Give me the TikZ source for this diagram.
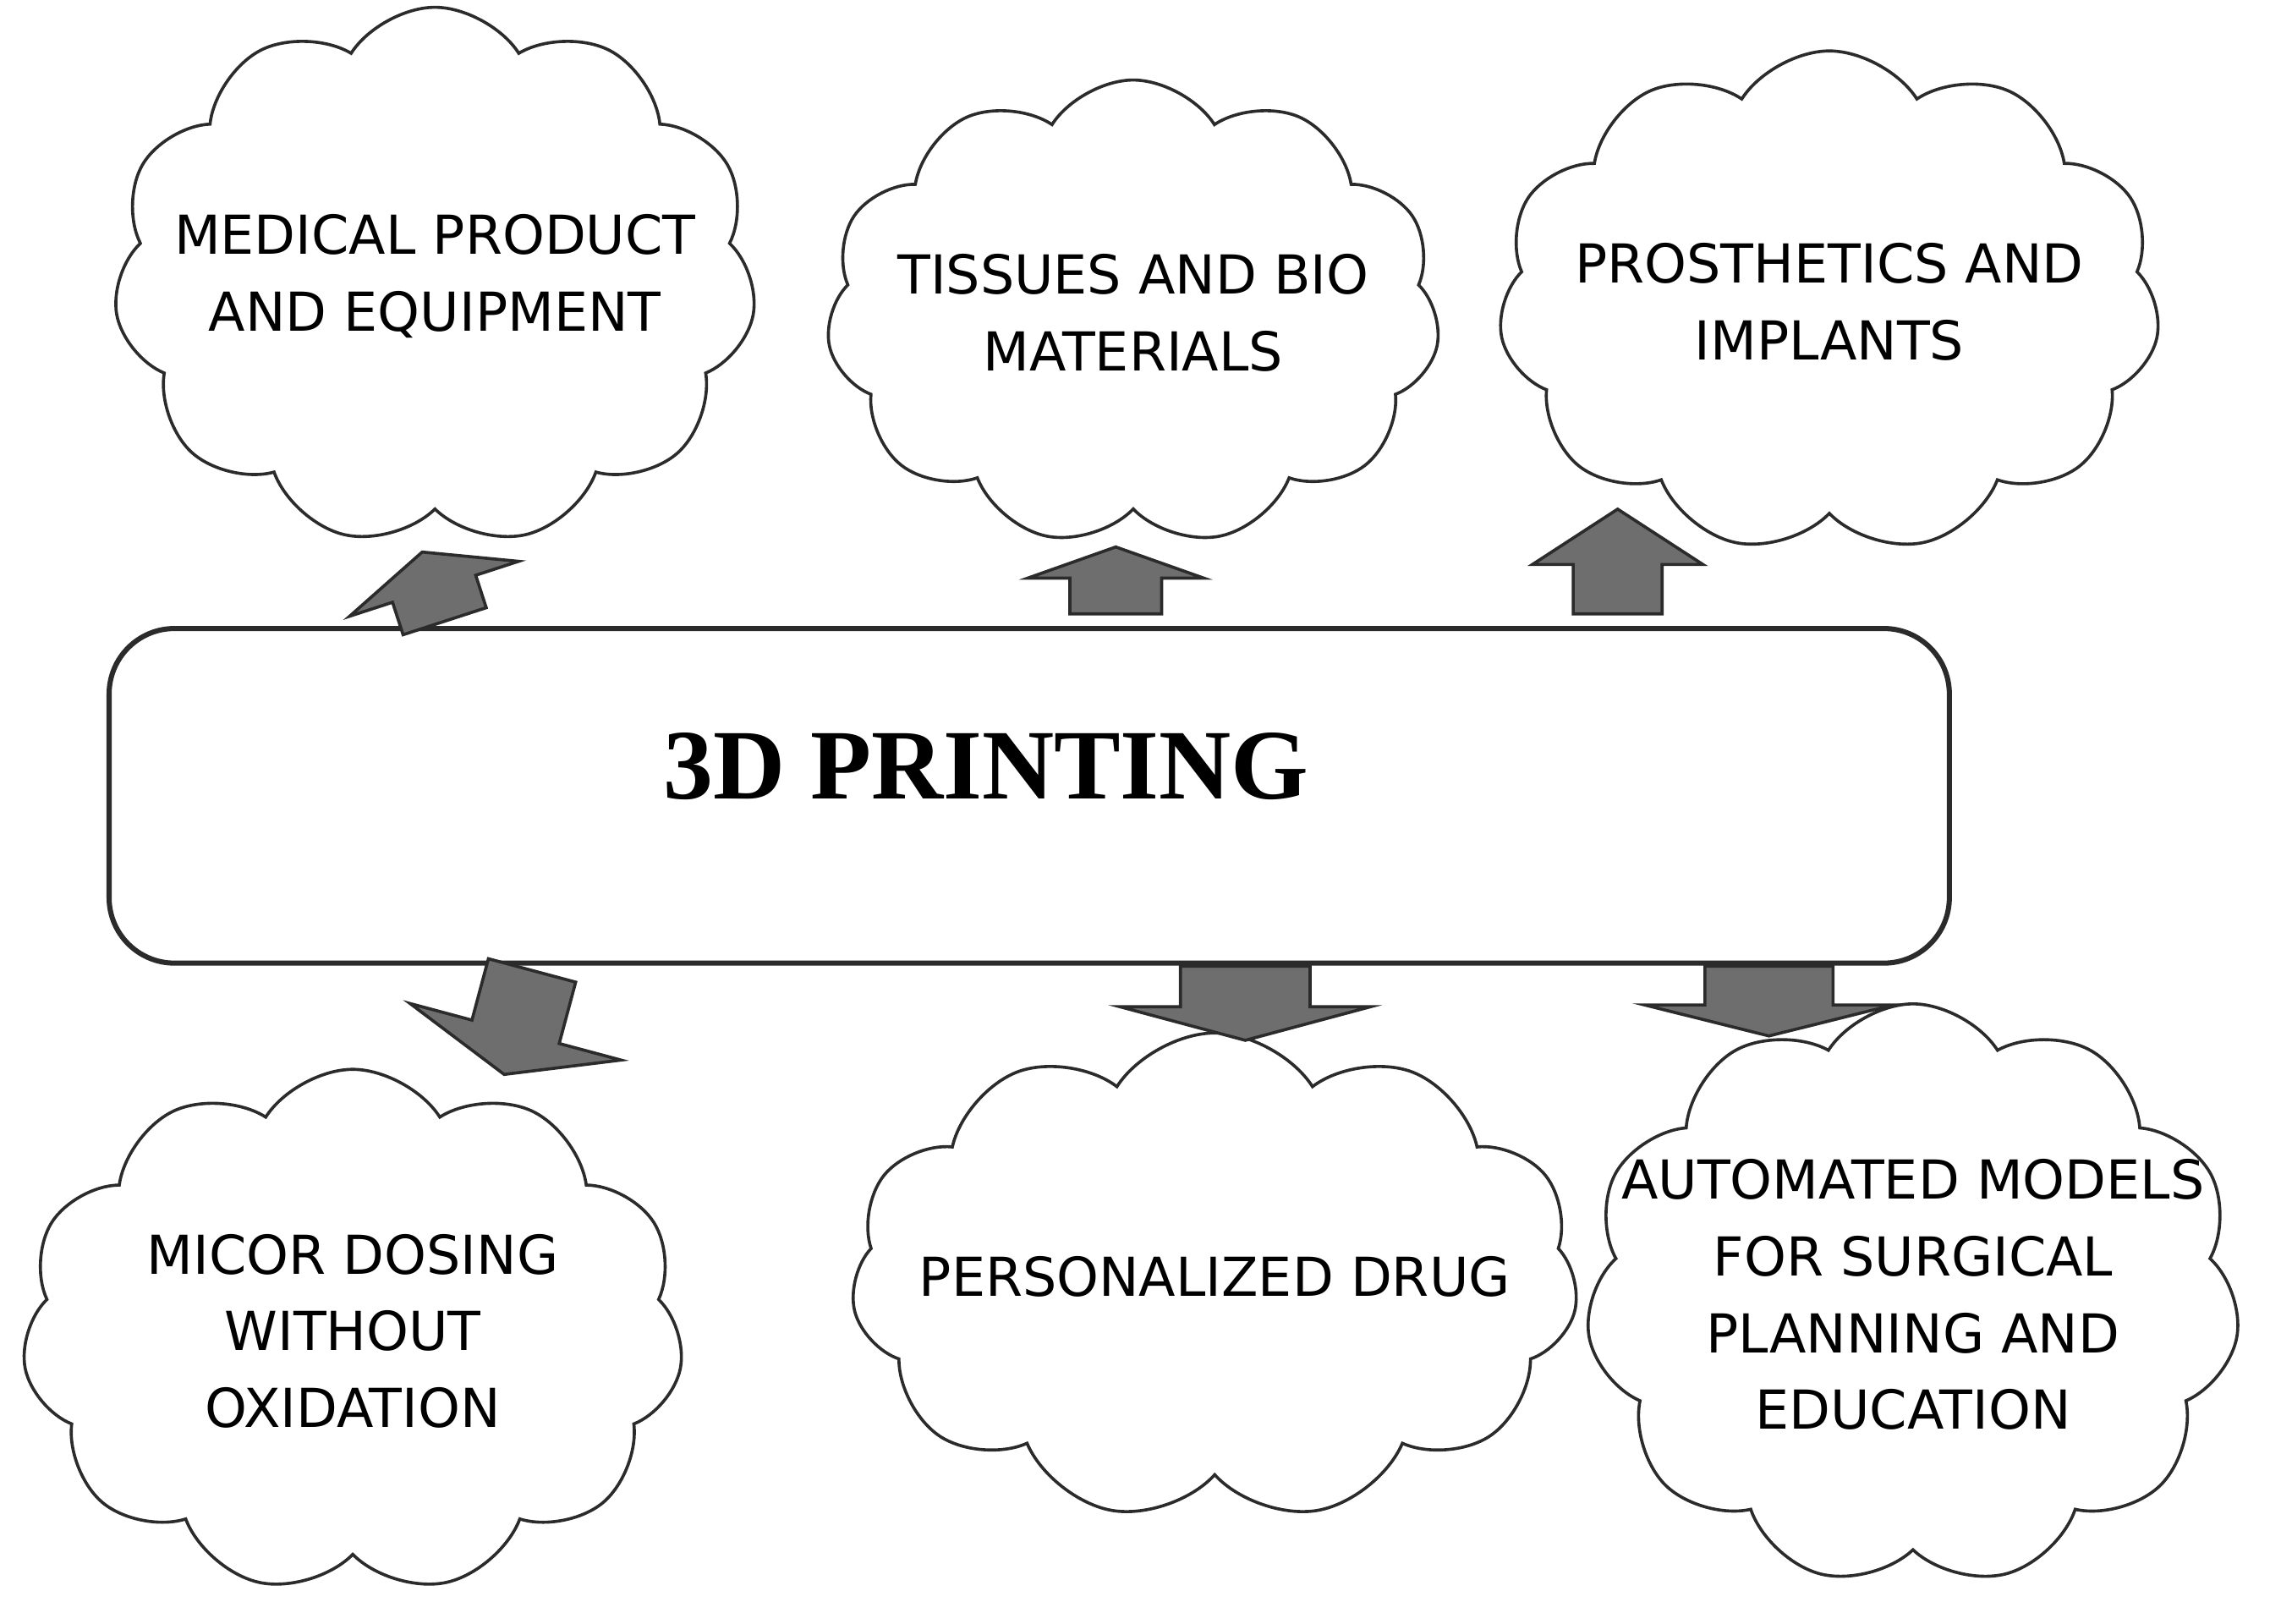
\documentclass[tikz,border=0pt]{standalone}
\usepackage{fontspec}
\setmainfont{Liberation Serif}
\newfontfamily\cloudfont{DejaVu Sans}
\usepackage{tikz}
\usetikzlibrary{shapes.symbols,shapes.arrows}
\definecolor{ArrowGray}{HTML}{6E6E6E}
\definecolor{EdgeDark}{HTML}{2B2B2B}

\begin{document}
\begin{tikzpicture}[every node/.style={font=\cloudfont\fontsize{10.5}{15}\selectfont},
  cloudbox/.style={draw=EdgeDark,line width=0.6pt,cloud,cloud puffs=11,cloud puff arc=115,cloud ignores aspect,align=center,inner xsep=-1.6cm,inner ysep=-0.5cm},
  blockarrow/.style={draw=EdgeDark,line width=0.6pt,fill=ArrowGray,single arrow,inner xsep=0pt,anchor=tail}]
\useasboundingbox (0,0) rectangle (15.68,11.16);
\node[draw=EdgeDark,line width=1pt,rounded corners=0.45cm,minimum width=12.65cm,minimum height=2.30cm] (print) at (7.075,5.69) {};
\node[font=\bfseries\fontsize{19.5}{22}\selectfont] (title) at (6.78,5.89) {3D PRINTING};
\node[cloudbox,minimum width=4.42cm,minimum height=3.70cm] (medical) at (2.99,9.26) {MEDICAL PRODUCT\\AND EQUIPMENT};
\node[cloudbox,minimum width=4.22cm,minimum height=3.20cm] (tissue) at (7.79,9.01) {TISSUES AND BIO\\MATERIALS};
\node[cloudbox,minimum width=4.55cm,minimum height=3.45cm] (prosth) at (12.575,9.085) {PROSTHETICS AND\\IMPLANTS};
\node[cloudbox,minimum width=4.55cm,minimum height=3.60cm] (dosing) at (2.425,2.01) {MICOR DOSING\\WITHOUT\\OXIDATION};
\node[cloudbox,minimum width=5.00cm,minimum height=3.35cm] (drug) at (8.35,2.385) {PERSONALIZED DRUG};
\node[cloudbox,minimum width=4.50cm,minimum height=4.00cm] (models) at (13.15,2.26) {AUTOMATED MODELS\\FOR SURGICAL\\PLANNING AND\\EDUCATION};
\node[blockarrow,rotate=108,inner ysep=0.29cm,single arrow head extend=0.31cm,single arrow tip angle=133,minimum height=0.50cm] (up1) at (3.06,6.88) {};
\node[blockarrow,rotate=90,inner ysep=0.305cm,single arrow head extend=0.29cm,single arrow tip angle=141,minimum height=0.46cm] (up2) at (7.67,6.93) {};
\node[blockarrow,rotate=90,inner ysep=0.295cm,single arrow head extend=0.28cm,single arrow tip angle=114,minimum height=0.72cm] (up3) at (11.12,6.93) {};
\node[blockarrow,rotate=-105,inner ysep=0.30cm,single arrow head extend=0.44cm,single arrow tip angle=136,minimum height=0.74cm] (down1) at (3.66,4.50) {};
\node[blockarrow,rotate=-90,inner ysep=0.435cm,single arrow head extend=0.415cm,single arrow tip angle=150,minimum height=0.51cm] (down2) at (8.56,4.53) {};
\node[blockarrow,rotate=-90,inner ysep=0.43cm,single arrow head extend=0.415cm,single arrow tip angle=152,minimum height=0.48cm] (down3) at (12.16,4.53) {};
\end{tikzpicture}
\end{document}
